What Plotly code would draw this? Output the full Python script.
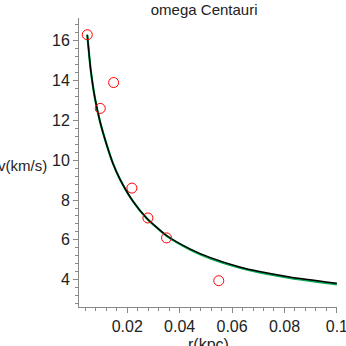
import plotly.graph_objects as go

# observed data (r in kpc, v in km/s)
r_obs = [0.00476, 0.00971, 0.01482, 0.02179, 0.02789, 0.0350, 0.05493]
v_obs = [16.3, 12.6, 13.9, 8.6, 7.1, 6.1, 3.95]

# model curve (black)
r_fit = [0.00476, 0.00606, 0.0077, 0.0096, 0.01215, 0.01467, 0.01722, 0.02229,
         0.02739, 0.03501, 0.04389, 0.0515, 0.0629, 0.0705, 0.082, 0.1]
v_fit = [16.3, 14.55, 13.1, 11.95, 10.78, 9.8, 9.05, 7.92,
         7.1, 6.22, 5.55, 5.12, 4.64, 4.41, 4.14, 3.82]

# second model curve (green), nearly identical, slightly lower at large r
r_fit2 = r_fit
v_fit2 = [16.3, 14.55, 13.1, 11.95, 10.78, 9.8, 9.05, 7.92,
          7.09, 6.2, 5.52, 5.08, 4.6, 4.36, 4.09, 3.76]

x_ticks = [0.02, 0.04, 0.06, 0.08, 0.1]
x_ticklabels = ["0.02", "0.04", "0.06", "0.08", "0.1"]
y_ticks = [4, 6, 8, 10, 12, 14, 16]

fig = go.Figure()
fig.add_trace(go.Scatter(x=r_fit2, y=v_fit2, mode="lines",
                         line=dict(color="#00a650", width=2.2, shape="spline", smoothing=0.6),
                         showlegend=False))
fig.add_trace(go.Scatter(x=r_fit, y=v_fit, mode="lines",
                         line=dict(color="#000000", width=1.5, shape="spline", smoothing=0.6),
                         showlegend=False))
fig.add_trace(go.Scatter(x=r_obs, y=v_obs, mode="markers",
                         marker=dict(symbol="circle-open", size=10, color="#ff0000",
                                     line=dict(width=1)),
                         showlegend=False, cliponaxis=False))

font = "Liberation Sans, Arial, sans-serif"
fig.update_layout(
    width=346, height=346,
    margin=dict(l=79, r=9, t=18, b=39, autoexpand=False),
    paper_bgcolor="white", plot_bgcolor="white",
    font=dict(family=font, size=16, color="#222222"),
    title=dict(text="omega Centauri", x=0.59, xanchor="center", xref="container",
               y=0.988, yanchor="top", yref="container",
               font=dict(size=15, color="#222222")),
    xaxis=dict(range=[0.0016, 0.10005], tickvals=x_ticks, ticktext=x_ticklabels,
               automargin=False,
               showgrid=False, zeroline=False, showline=True, linecolor="#888888",
               linewidth=1, ticks="outside", ticklen=5, tickcolor="#888888",
               tickfont=dict(size=16), ticklabeloverflow="allow",
               minor=dict(dtick=0.004, tick0=0, ticks="outside", ticklen=3,
                          tickcolor="#888888", showgrid=False)),
    yaxis=dict(range=[2.63, 17.14], tickvals=y_ticks, automargin=False,
               showgrid=False, zeroline=False, showline=True, linecolor="#888888",
               linewidth=1, ticks="outside", ticklen=5, tickcolor="#888888",
               tickfont=dict(size=16), ticklabeloverflow="allow",
               minor=dict(dtick=0.4, tick0=0, ticks="outside", ticklen=3,
                          tickcolor="#888888", showgrid=False)),
    annotations=[
        dict(text="v(km/s)", xref="paper", yref="paper", x=-0.117, y=0.49,
             xanchor="right", yanchor="middle", showarrow=False,
             font=dict(size=15, color="#222222")),
        dict(text="r(kpc)", xref="paper", yref="paper", x=0.5, y=-0.095,
             xanchor="center", yanchor="top", showarrow=False,
             font=dict(size=16, color="#222222")),
    ],
)

fig.write_html("out.html", config={"displayModeBar": False},
               post_script="document.body.style.margin='0';document.body.style.padding='0';")
